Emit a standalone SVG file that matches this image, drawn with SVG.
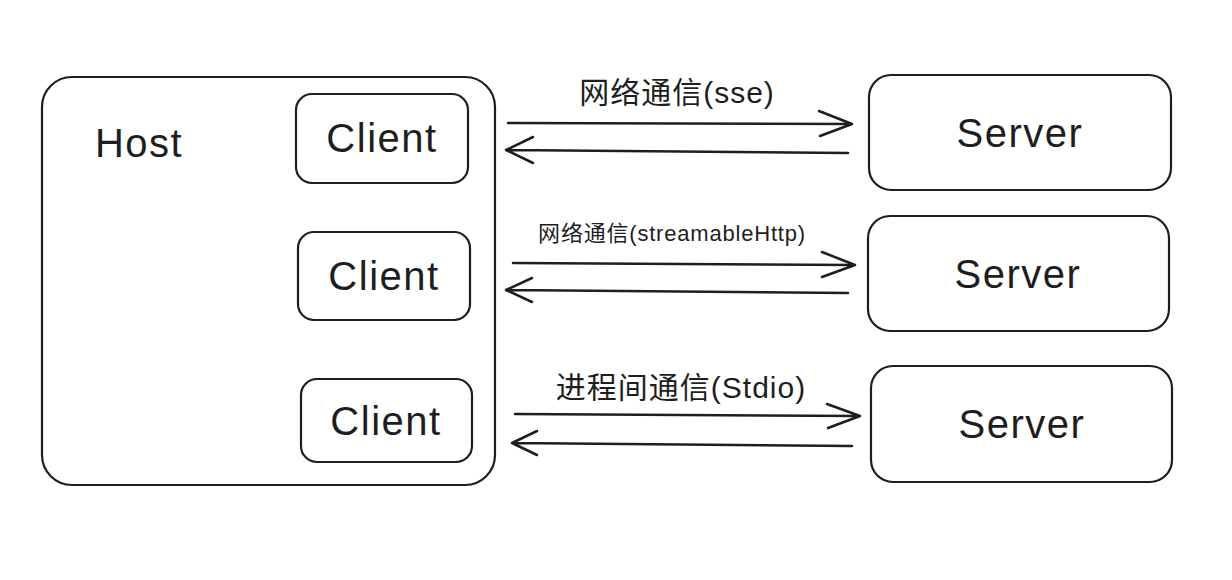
<svg xmlns="http://www.w3.org/2000/svg" width="1232" height="580" viewBox="0 0 1232 580">
<defs>
<style>
.box{fill:#fff;stroke:#1e1e1e;stroke-width:2.2}
.t{font-family:"Liberation Sans","Noto Sans CJK SC",sans-serif;fill:#1e1e1e}
.big{font-size:40px;text-anchor:middle;letter-spacing:1.5px}
.lbl{font-size:30px;text-anchor:middle;letter-spacing:1px}
.ln{fill:none;stroke:#1e1e1e;stroke-width:2.5;stroke-linecap:round;stroke-linejoin:round}
</style>
</defs>
<rect width="1232" height="580" fill="#fff"/>
<g id="host">
<rect class="box" x="42" y="77" width="453" height="408" rx="30"/>
<text class="t big" x="139" y="157">Host</text>
</g>
<g id="client1">
<rect class="box" x="296" y="94" width="172" height="89" rx="16"/>
<text class="t big" x="382" y="152">Client</text>
</g>
<g id="client2">
<rect class="box" x="298" y="232" width="172" height="88" rx="16"/>
<text class="t big" x="384" y="290">Client</text>
</g>
<g id="client3">
<rect class="box" x="301" y="379" width="171" height="83" rx="16"/>
<text class="t big" x="386" y="435">Client</text>
</g>
<g id="server1">
<rect class="box" x="869" y="75" width="302" height="115" rx="22"/>
<text class="t big" x="1020" y="147">Server</text>
</g>
<g id="server2">
<rect class="box" x="868" y="216" width="301" height="115" rx="22"/>
<text class="t big" x="1018" y="288">Server</text>
</g>
<g id="server3">
<rect class="box" x="871" y="366" width="301" height="116" rx="22"/>
<text class="t big" x="1022" y="438">Server</text>
</g>
<g id="connectors">
<path class="ln" d="M508 123 L852 124 M819 111 L852 124 L820 136"/>
<path class="ln" d="M848 153 L506 150 M533 137 L506 150 L533 163"/>
<path class="ln" d="M513 263 L855 265 M822 252 L855 265 L822 277"/>
<path class="ln" d="M848 293 L506 290 M532 278 L506 290 L532 302"/>
<path class="ln" d="M515 414 L860 416 M827 404 L860 416 L828 428"/>
<path class="ln" d="M852 446 L512 443 M537 431 L512 443 L537 455"/>
<text class="t lbl" x="677" y="103">网络通信(sse)</text>
<text class="t" x="672" y="241" font-size="22" text-anchor="middle" letter-spacing="0.8">网络通信(streamableHttp)</text>
<text class="t lbl" x="681" y="398">进程间通信(Stdio)</text>
</g>
</svg>
